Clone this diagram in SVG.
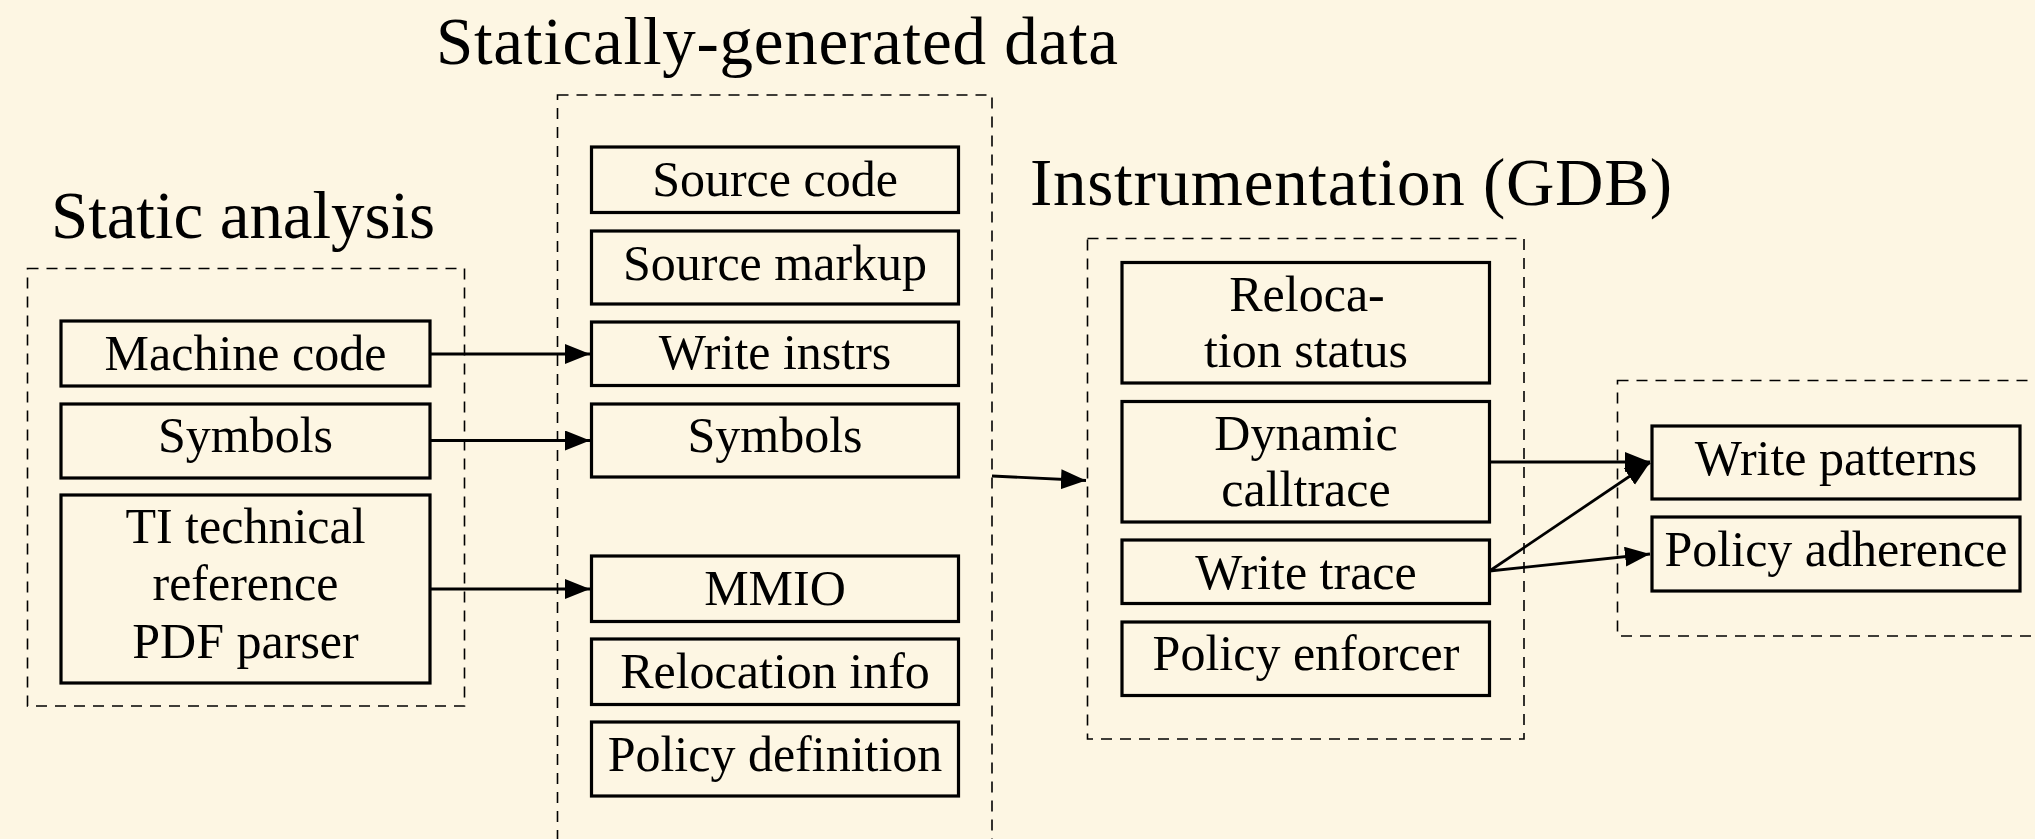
<svg xmlns="http://www.w3.org/2000/svg" width="2035" height="839" viewBox="0 0 2035 839">
<style>
.bg{fill:#fdf6e3}
.grp{fill:none;stroke:#000;stroke-width:1.6;stroke-dasharray:11 8}
.box{fill:none;stroke:#000;stroke-width:3.2}
.t{font-family:"Liberation Serif","DejaVu Serif",serif;font-size:50px;fill:#000;text-anchor:middle}
.title{font-family:"Liberation Serif","DejaVu Serif",serif;font-size:67px;fill:#000}
.arr{fill:none;stroke:#000;stroke-width:2.8;marker-end:url(#ah)}
</style>
<defs>
<marker id="ah" markerUnits="userSpaceOnUse" markerWidth="28" markerHeight="22" refX="25" refY="10" orient="auto">
<path d="M0,0 L25,10 L0,20 z" fill="#000"/>
</marker>
</defs>
<rect class="bg" x="0" y="0" width="2035" height="839"/>

<g id="titles">
<text class="title" x="51" y="238" textLength="384">Static analysis</text>
<text class="title" x="436" y="64" textLength="682">Statically-generated data</text>
<text class="title" x="1030" y="205" textLength="642">Instrumentation (GDB)</text>
</g>

<g id="groups">
<rect id="grp-static" class="grp" x="27.5" y="268.5" width="437" height="437.5"/>
<rect id="grp-data" class="grp" x="557.5" y="95" width="434.5" height="765"/>
<rect id="grp-instr" class="grp" x="1087.5" y="238.5" width="436.5" height="500.5"/>
<rect id="grp-out" class="grp" x="1617.5" y="380.5" width="440" height="255.5"/>
</g>

<g id="n-machine-code"><rect class="box" x="61" y="321" width="369" height="65"/><text class="t" x="245.5" y="370">Machine code</text></g>
<g id="n-symbols-sa"><rect class="box" x="61" y="404" width="369" height="74"/><text class="t" x="245.5" y="452">Symbols</text></g>
<g id="n-ti"><rect class="box" x="61" y="495" width="369" height="188"/><text class="t" x="245.5" y="543">TI technical</text><text class="t" x="245.5" y="600">reference</text><text class="t" x="245.5" y="657.5">PDF parser</text></g>

<g id="n-source-code"><rect class="box" x="591.5" y="147" width="367" height="65.5"/><text class="t" x="775" y="195.5">Source code</text></g>
<g id="n-source-markup"><rect class="box" x="591.5" y="231" width="367" height="73"/><text class="t" x="775" y="279.5">Source markup</text></g>
<g id="n-write-instrs"><rect class="box" x="591.5" y="322" width="367" height="63.5"/><text class="t" x="775" y="369">Write instrs</text></g>
<g id="n-symbols-d"><rect class="box" x="591.5" y="404" width="367" height="73"/><text class="t" x="775" y="452">Symbols</text></g>
<g id="n-mmio"><rect class="box" x="591.5" y="556" width="367" height="65.5"/><text class="t" x="775" y="604.5">MMIO</text></g>
<g id="n-reloc-info"><rect class="box" x="591.5" y="639" width="367" height="65.5"/><text class="t" x="775" y="687.5">Relocation info</text></g>
<g id="n-policy-def"><rect class="box" x="591.5" y="722" width="367" height="74"/><text class="t" x="775" y="770.5">Policy definition</text></g>

<g id="n-reloc-status"><rect class="box" x="1122" y="262.5" width="367.5" height="120.5"/><text class="t" x="1307" y="311">Reloca-</text><text class="t" x="1306" y="367">tion status</text></g>
<g id="n-dyn-calltrace"><rect class="box" x="1122" y="401.5" width="367.5" height="120.5"/><text class="t" x="1306" y="449.5">Dynamic</text><text class="t" x="1306" y="505.5">calltrace</text></g>
<g id="n-write-trace"><rect class="box" x="1122" y="540" width="367.5" height="63.5"/><text class="t" x="1306" y="588.5">Write trace</text></g>
<g id="n-policy-enf"><rect class="box" x="1122" y="622" width="367.5" height="73.5"/><text class="t" x="1306" y="670">Policy enforcer</text></g>

<g id="n-write-patterns"><rect class="box" x="1652" y="426" width="368" height="73"/><text class="t" x="1836" y="475">Write patterns</text></g>
<g id="n-policy-adh"><rect class="box" x="1652" y="517" width="368" height="74"/><text class="t" x="1836" y="566">Policy adherence</text></g>

<g id="connectors">
<line class="arr" x1="430" y1="354" x2="590" y2="354"/>
<line class="arr" x1="430" y1="440.5" x2="590" y2="440.5"/>
<line class="arr" x1="430" y1="589" x2="590" y2="589"/>
<line class="arr" x1="992" y1="476" x2="1086" y2="480.5"/>
<line class="arr" x1="1489.5" y1="462" x2="1650" y2="462"/>
<line class="arr" x1="1489.5" y1="571" x2="1650" y2="462.5"/>
<line class="arr" x1="1489.5" y1="571" x2="1650" y2="554"/>
</g>
</svg>
